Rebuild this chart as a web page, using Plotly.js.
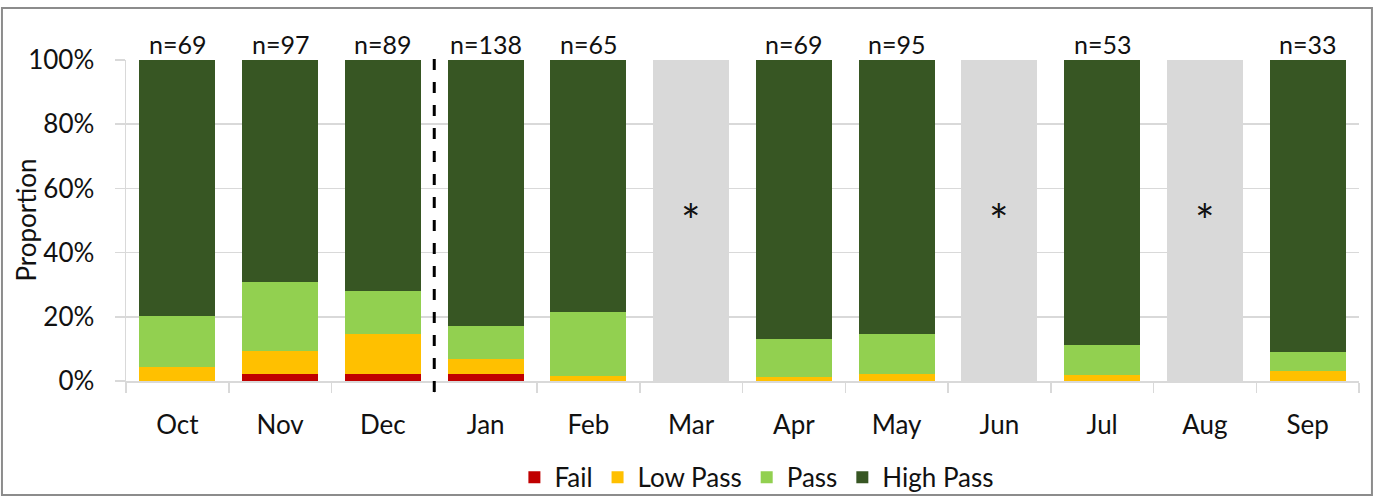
<!DOCTYPE html>
<html>
<head>
<meta charset="utf-8">
<script src="https://cdn.plot.ly/plotly-3.0.1.min.js"></script>
<style>
  html, body { margin: 0; padding: 0; background: #fff; }
  #chart { width: 1374px; height: 498px; }
</style>
</head>
<body>
<div id="chart"></div>
<script>
// ---- data (percent of samples per month) ----
const months   = ['Oct','Nov','Dec','Jan','Feb','Mar','Apr','May','Jun','Jul','Aug','Sep'];
const fail     = [0,    2.1,  2.2,  2.2,  0,    null, 0,    0,    null, 0,    null, 0];
const lowPass  = [4.3,  7.2,  12.4, 4.7,  1.5,  null, 1.4,  2.1,  null, 1.9,  null, 3.0];
const passVals = [15.9, 21.6, 13.5, 10.2, 20.0, null, 11.6, 12.6, null, 9.4,  null, 6.1];
const highPass = [79.8, 69.1, 71.9, 82.9, 78.5, null, 87.0, 85.3, null, 88.7, null, 90.9];
const noData   = [null, null, null, null, null, 100,  null, null, 100,  null, 100,  null];
const nCounts  = [69,   97,   89,   138,  65,   null, 69,   95,   null, 53,   null, 33];
const seasonBreakAfter = 'Dec';
const yTitle = 'Proportion';

const FONT = 'Lato, "Open Sans", sans-serif';
const TXT = '#111111';

const traces = [
  {name: 'Fail',      y: fail,     color: '#c00000'},
  {name: 'Low Pass',  y: lowPass,  color: '#ffc000'},
  {name: 'Pass',      y: passVals, color: '#92d050'},
  {name: 'High Pass', y: highPass, color: '#375623'}
].map(s => ({
  type: 'bar', x: months, y: s.y, name: s.name,
  marker: {color: s.color, line: {width: 0}},
  hoverinfo: 'x+y+name'
}));
traces.push({
  type: 'bar', x: months, y: noData, name: 'No data', showlegend: false,
  marker: {color: '#d9d9d9', line: {width: 0}}, hoverinfo: 'skip'
});

const annotations = [];
months.forEach((m, i) => {
  if (nCounts[i] !== null) {
    annotations.push({
      x: m, y: 100, xref: 'x', yref: 'y', yanchor: 'bottom', showarrow: false,
      text: 'n=' + nCounts[i], font: {family: FONT, size: 25, color: TXT}, yshift: -1
    });
  }
  if (noData[i] !== null) {
    annotations.push({
      x: m, y: 50, xref: 'x', yref: 'y', yanchor: 'middle', showarrow: false,
      text: '*', font: {family: FONT, size: 46, color: TXT}
    });
  }
});
// y-axis title, placed as a rotated annotation for exact position
annotations.push({
  x: -0.0819, y: 0.5, xref: 'paper', yref: 'paper', xanchor: 'center', yanchor: 'middle',
  showarrow: false, textangle: -90, text: yTitle,
  font: {family: FONT, size: 26, color: TXT}
});

const breakIdx = months.indexOf(seasonBreakAfter) + 0.5;

const layout = {
  width: 1374, height: 498,
  margin: {l: 126, r: 15, t: 60, b: 117, pad: 0, autoexpand: false},
  paper_bgcolor: '#ffffff', plot_bgcolor: '#ffffff',
  barmode: 'stack', bargap: 0.26,
  font: {family: FONT, size: 26, color: TXT},
  showlegend: true,
  legend: {
    orientation: 'h', x: 0.315, xanchor: 'left', y: -0.30, yanchor: 'middle',
    bgcolor: 'rgba(0,0,0,0)',
    font: {family: FONT, size: 26, color: TXT}, traceorder: 'normal',
    itemwidth: 30, tracegroupgap: 0
  },
  xaxis: {
    type: 'category', range: [-0.5, 11.5], fixedrange: true,
    showline: true, linecolor: '#d9d9d9', linewidth: 1.5,
    ticks: 'outside', tickson: 'boundaries', ticklen: 10, tickcolor: '#d9d9d9', tickwidth: 1.5,
    ticklabelstandoff: 20,
    showgrid: false, zeroline: false,
    tickfont: {family: FONT, size: 26, color: TXT}
  },
  yaxis: {
    range: [0, 100], fixedrange: true, dtick: 20, ticksuffix: '%',
    showgrid: true, gridcolor: '#d9d9d9', gridwidth: 1.5,
    showline: true, linecolor: '#d9d9d9', linewidth: 1.5,
    ticks: 'outside', ticklen: 10, tickcolor: '#d9d9d9', tickwidth: 1.5,
    ticklabelstandoff: 15, zeroline: false,
    tickfont: {family: FONT, size: 26, color: TXT},
    title: {text: ''}
  },
  annotations: annotations,
  shapes: [
    {type: 'line', xref: 'x', yref: 'paper', x0: breakIdx, x1: breakIdx,
     y0: -0.034, y1: 1.016, line: {color: '#000', width: 3, dash: '11px,12px'}},
    {type: 'rect', xref: 'paper', yref: 'paper', x0: -0.1006, x1: 1.0105, y0: -0.355, y1: 1.162,
     line: {color: '#8c8c8c', width: 2}, fillcolor: 'rgba(0,0,0,0)', layer: 'above'}
  ]
};

Plotly.newPlot('chart', traces, layout, {displayModeBar: false, staticPlot: true});
</script>
</body>
</html>
